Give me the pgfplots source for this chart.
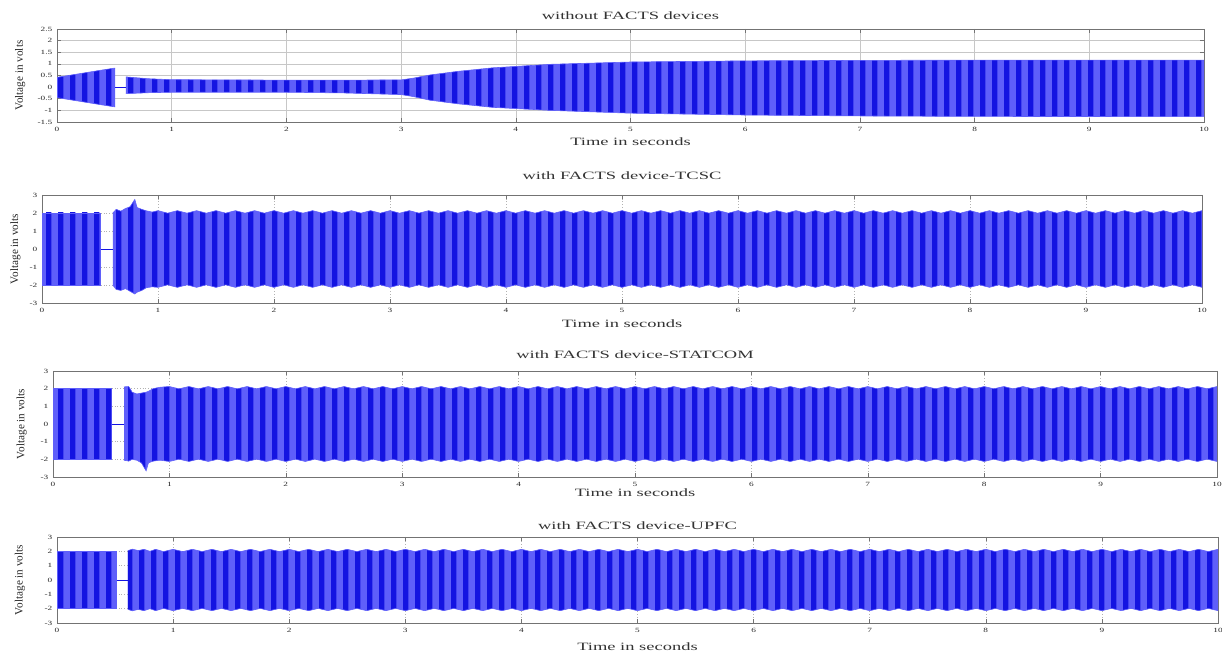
\documentclass[border=0pt]{standalone}
\usepackage{fontspec}
\setmainfont{Liberation Serif}[FakeStretch=1.45]
\newfontfamily\ttlfamily{Liberation Serif}[FakeStretch=1.65]
\newfontfamily\ylfamily{Liberation Serif}
\usepackage{pgfplots}
\pgfplotsset{compat=1.18}
\usepackage{pgfplotstable}
\usepgfplotslibrary{fillbetween}
\usetikzlibrary{patterns.meta}

\definecolor{sigfill}{RGB}{95,95,250}
\definecolor{sigdark}{RGB}{20,20,225}

\tikzdeclarepattern{
  name=vstripes, type=uncolored,
  bounding box={(0pt,0pt) and (5.8pt,400pt)},
  tile size={(5.8pt,400pt)},
  code={\fill (0pt,-1pt) rectangle (2.8pt,401pt);}
}

\newcommand\titlefont{\ttlfamily\fontsize{5.6}{6.5}\selectfont}
\newcommand\tickfont{\fontsize{3.2}{3.8}\selectfont}
\newcommand\ylfont{\ylfamily\fontsize{5.6}{6.5}\selectfont}

% ---------- panel 1 : without FACTS ----------
\pgfplotstableread{
t u l
0.00 0.42 -0.45
0.10 0.50 -0.53
0.20 0.58 -0.61
0.30 0.66 -0.69
0.40 0.74 -0.77
0.506 0.82 -0.85
}\pOneA
\pgfplotstableread{
t u l
0.60 0.44 -0.28
0.80 0.36 -0.24
1.00 0.32 -0.22
2.00 0.30 -0.22
2.50 0.30 -0.25
3.00 0.31 -0.32
3.10 0.38 -0.40
3.25 0.52 -0.56
3.50 0.68 -0.72
3.80 0.83 -0.87
4.30 0.98 -1.00
5.00 1.08 -1.12
6.00 1.13 -1.20
7.00 1.15 -1.24
8.00 1.16 -1.26
10.00 1.16 -1.27
}\pOneB
% ---------- panel 2 : TCSC ----------
\pgfplotstableread{
t u l
0.00 2.00 -2.00
0.506 2.00 -2.00
}\pTwoA
\pgfplotstableread{
t u l
0.61 2.00 -2.00
0.64 2.20 -2.25
0.68 2.10 -2.30
0.72 2.25 -2.20
0.76 2.35 -2.35
0.80 2.75 -2.50
0.82 2.30 -2.40
0.86 2.20 -2.30
0.90 2.12 -2.15
0.95 2.05 -2.10
1.000 2.13 -2.13
1.083 1.99 -1.99
1.167 2.13 -2.13
1.250 1.99 -1.99
1.333 2.13 -2.13
1.417 1.99 -1.99
1.500 2.13 -2.13
1.583 1.99 -1.99
1.667 2.13 -2.13
1.750 1.99 -1.99
1.833 2.13 -2.13
1.917 1.99 -1.99
2.000 2.13 -2.13
2.083 1.99 -1.99
2.167 2.13 -2.13
2.250 1.99 -1.99
2.333 2.13 -2.13
2.417 1.99 -1.99
2.500 2.13 -2.13
2.583 1.99 -1.99
2.667 2.13 -2.13
2.750 1.99 -1.99
2.833 2.13 -2.13
2.917 1.99 -1.99
3.000 2.13 -2.13
3.083 1.99 -1.99
3.167 2.13 -2.13
3.250 1.99 -1.99
3.333 2.13 -2.13
3.417 1.99 -1.99
3.500 2.13 -2.13
3.583 1.99 -1.99
3.667 2.13 -2.13
3.750 1.99 -1.99
3.833 2.13 -2.13
3.917 1.99 -1.99
4.000 2.13 -2.13
4.083 1.99 -1.99
4.167 2.13 -2.13
4.250 1.99 -1.99
4.333 2.13 -2.13
4.417 1.99 -1.99
4.500 2.13 -2.13
4.583 1.99 -1.99
4.667 2.13 -2.13
4.750 1.99 -1.99
4.833 2.13 -2.13
4.917 1.99 -1.99
5.000 2.13 -2.13
5.083 1.99 -1.99
5.167 2.13 -2.13
5.250 1.99 -1.99
5.333 2.13 -2.13
5.417 1.99 -1.99
5.500 2.13 -2.13
5.583 1.99 -1.99
5.667 2.13 -2.13
5.750 1.99 -1.99
5.833 2.13 -2.13
5.917 1.99 -1.99
6.000 2.13 -2.13
6.083 1.99 -1.99
6.167 2.13 -2.13
6.250 1.99 -1.99
6.333 2.13 -2.13
6.417 1.99 -1.99
6.500 2.13 -2.13
6.583 1.99 -1.99
6.667 2.13 -2.13
6.750 1.99 -1.99
6.833 2.13 -2.13
6.917 1.99 -1.99
7.000 2.13 -2.13
7.083 1.99 -1.99
7.167 2.13 -2.13
7.250 1.99 -1.99
7.333 2.13 -2.13
7.417 1.99 -1.99
7.500 2.13 -2.13
7.583 1.99 -1.99
7.667 2.13 -2.13
7.750 1.99 -1.99
7.833 2.13 -2.13
7.917 1.99 -1.99
8.000 2.13 -2.13
8.083 1.99 -1.99
8.167 2.13 -2.13
8.250 1.99 -1.99
8.333 2.13 -2.13
8.417 1.99 -1.99
8.500 2.13 -2.13
8.583 1.99 -1.99
8.667 2.13 -2.13
8.750 1.99 -1.99
8.833 2.13 -2.13
8.917 1.99 -1.99
9.000 2.13 -2.13
9.083 1.99 -1.99
9.167 2.13 -2.13
9.250 1.99 -1.99
9.333 2.13 -2.13
9.417 1.99 -1.99
9.500 2.13 -2.13
9.583 1.99 -1.99
9.667 2.13 -2.13
9.750 1.99 -1.99
9.833 2.13 -2.13
9.917 1.99 -1.99
10.000 2.13 -2.13
}\pTwoB
% ---------- panel 3 : STATCOM ----------
\pgfplotstableread{
t u l
0.00 2.00 -2.00
0.504 2.00 -2.00
}\pThreeA
\pgfplotstableread{
t u l
0.61 2.10 -2.05
0.65 2.12 -2.10
0.68 1.80 -2.00
0.72 1.70 -2.05
0.76 1.75 -2.20
0.80 1.80 -2.65
0.82 1.85 -2.20
0.86 2.00 -2.10
0.92 2.08 -2.05
1.000 2.12 -2.12
1.083 1.99 -1.99
1.167 2.12 -2.12
1.250 1.99 -1.99
1.333 2.12 -2.12
1.417 1.99 -1.99
1.500 2.12 -2.12
1.583 1.99 -1.99
1.667 2.12 -2.12
1.750 1.99 -1.99
1.833 2.12 -2.12
1.917 1.99 -1.99
2.000 2.12 -2.12
2.083 1.99 -1.99
2.167 2.12 -2.12
2.250 1.99 -1.99
2.333 2.12 -2.12
2.417 1.99 -1.99
2.500 2.12 -2.12
2.583 1.99 -1.99
2.667 2.12 -2.12
2.750 1.99 -1.99
2.833 2.12 -2.12
2.917 1.99 -1.99
3.000 2.12 -2.12
3.083 1.99 -1.99
3.167 2.12 -2.12
3.250 1.99 -1.99
3.333 2.12 -2.12
3.417 1.99 -1.99
3.500 2.12 -2.12
3.583 1.99 -1.99
3.667 2.12 -2.12
3.750 1.99 -1.99
3.833 2.12 -2.12
3.917 1.99 -1.99
4.000 2.12 -2.12
4.083 1.99 -1.99
4.167 2.12 -2.12
4.250 1.99 -1.99
4.333 2.12 -2.12
4.417 1.99 -1.99
4.500 2.12 -2.12
4.583 1.99 -1.99
4.667 2.12 -2.12
4.750 1.99 -1.99
4.833 2.12 -2.12
4.917 1.99 -1.99
5.000 2.12 -2.12
5.083 1.99 -1.99
5.167 2.12 -2.12
5.250 1.99 -1.99
5.333 2.12 -2.12
5.417 1.99 -1.99
5.500 2.12 -2.12
5.583 1.99 -1.99
5.667 2.12 -2.12
5.750 1.99 -1.99
5.833 2.12 -2.12
5.917 1.99 -1.99
6.000 2.12 -2.12
6.083 1.99 -1.99
6.167 2.12 -2.12
6.250 1.99 -1.99
6.333 2.12 -2.12
6.417 1.99 -1.99
6.500 2.12 -2.12
6.583 1.99 -1.99
6.667 2.12 -2.12
6.750 1.99 -1.99
6.833 2.12 -2.12
6.917 1.99 -1.99
7.000 2.12 -2.12
7.083 1.99 -1.99
7.167 2.12 -2.12
7.250 1.99 -1.99
7.333 2.12 -2.12
7.417 1.99 -1.99
7.500 2.12 -2.12
7.583 1.99 -1.99
7.667 2.12 -2.12
7.750 1.99 -1.99
7.833 2.12 -2.12
7.917 1.99 -1.99
8.000 2.12 -2.12
8.083 1.99 -1.99
8.167 2.12 -2.12
8.250 1.99 -1.99
8.333 2.12 -2.12
8.417 1.99 -1.99
8.500 2.12 -2.12
8.583 1.99 -1.99
8.667 2.12 -2.12
8.750 1.99 -1.99
8.833 2.12 -2.12
8.917 1.99 -1.99
9.000 2.12 -2.12
9.083 1.99 -1.99
9.167 2.12 -2.12
9.250 1.99 -1.99
9.333 2.12 -2.12
9.417 1.99 -1.99
9.500 2.12 -2.12
9.583 1.99 -1.99
9.667 2.12 -2.12
9.750 1.99 -1.99
9.833 2.12 -2.12
9.917 1.99 -1.99
10.000 2.12 -2.12
}\pThreeB
% ---------- panel 4 : UPFC ----------
\pgfplotstableread{
t u l
0.00 2.00 -2.00
0.515 2.00 -2.00
}\pFourA
\pgfplotstableread{
t u l
0.61 2.05 -2.05
0.65 2.15 -2.15
0.70 2.05 -2.05
0.75 2.14 -2.14
0.80 2.00 -2.00
0.85 2.14 -2.14
0.917 1.98 -1.98
1.000 2.14 -2.14
1.083 1.98 -1.98
1.167 2.14 -2.14
1.250 1.98 -1.98
1.333 2.14 -2.14
1.417 1.98 -1.98
1.500 2.14 -2.14
1.583 1.98 -1.98
1.667 2.14 -2.14
1.750 1.98 -1.98
1.833 2.14 -2.14
1.917 1.98 -1.98
2.000 2.14 -2.14
2.083 1.98 -1.98
2.167 2.14 -2.14
2.250 1.98 -1.98
2.333 2.14 -2.14
2.417 1.98 -1.98
2.500 2.14 -2.14
2.583 1.98 -1.98
2.667 2.14 -2.14
2.750 1.98 -1.98
2.833 2.14 -2.14
2.917 1.98 -1.98
3.000 2.14 -2.14
3.083 1.98 -1.98
3.167 2.14 -2.14
3.250 1.98 -1.98
3.333 2.14 -2.14
3.417 1.98 -1.98
3.500 2.14 -2.14
3.583 1.98 -1.98
3.667 2.14 -2.14
3.750 1.98 -1.98
3.833 2.14 -2.14
3.917 1.98 -1.98
4.000 2.14 -2.14
4.083 1.98 -1.98
4.167 2.14 -2.14
4.250 1.98 -1.98
4.333 2.14 -2.14
4.417 1.98 -1.98
4.500 2.14 -2.14
4.583 1.98 -1.98
4.667 2.14 -2.14
4.750 1.98 -1.98
4.833 2.14 -2.14
4.917 1.98 -1.98
5.000 2.14 -2.14
5.083 1.98 -1.98
5.167 2.14 -2.14
5.250 1.98 -1.98
5.333 2.14 -2.14
5.417 1.98 -1.98
5.500 2.14 -2.14
5.583 1.98 -1.98
5.667 2.14 -2.14
5.750 1.98 -1.98
5.833 2.14 -2.14
5.917 1.98 -1.98
6.000 2.14 -2.14
6.083 1.98 -1.98
6.167 2.14 -2.14
6.250 1.98 -1.98
6.333 2.14 -2.14
6.417 1.98 -1.98
6.500 2.14 -2.14
6.583 1.98 -1.98
6.667 2.14 -2.14
6.750 1.98 -1.98
6.833 2.14 -2.14
6.917 1.98 -1.98
7.000 2.14 -2.14
7.083 1.98 -1.98
7.167 2.14 -2.14
7.250 1.98 -1.98
7.333 2.14 -2.14
7.417 1.98 -1.98
7.500 2.14 -2.14
7.583 1.98 -1.98
7.667 2.14 -2.14
7.750 1.98 -1.98
7.833 2.14 -2.14
7.917 1.98 -1.98
8.000 2.14 -2.14
8.083 1.98 -1.98
8.167 2.14 -2.14
8.250 1.98 -1.98
8.333 2.14 -2.14
8.417 1.98 -1.98
8.500 2.14 -2.14
8.583 1.98 -1.98
8.667 2.14 -2.14
8.750 1.98 -1.98
8.833 2.14 -2.14
8.917 1.98 -1.98
9.000 2.14 -2.14
9.083 1.98 -1.98
9.167 2.14 -2.14
9.250 1.98 -1.98
9.333 2.14 -2.14
9.417 1.98 -1.98
9.500 2.14 -2.14
9.583 1.98 -1.98
9.667 2.14 -2.14
9.750 1.98 -1.98
9.833 2.14 -2.14
9.917 1.98 -1.98
10.000 2.14 -2.14
}\pFourB

\newcommand\env[2]{%
  \addplot[draw=sigfill, line width=0.3pt, name path=#2u] table[x=t,y=u]{#1};
  \addplot[draw=sigfill, line width=0.3pt, name path=#2l] table[x=t,y=l]{#1};
  \addplot[fill=sigfill, draw=none] fill between[of=#2u and #2l];
  \addplot[pattern=vstripes, pattern color=sigdark, draw=none] fill between[of=#2u and #2l];
}

\pgfplotsset{
  every axis title shift=0pt,
  panel/.style={
    scale only axis,
    xmin=0, xmax=10, xtick={0,1,...,10},
    tick align=inside,
    axis line style={black!55, line width=0.4pt},
    tick style={black!55, line width=0.3pt},
    major tick length=2pt,
    grid=major,
    grid style={black!30, densely dotted, line width=0.3pt},
    ticklabel style={font=\tickfont, text=black!85},
    /pgf/number format/assume math mode=true,
    /pgf/number format/fixed,
    xticklabel style={yshift=1pt},
    yticklabel style={xshift=1.2pt},
    title style={font=\titlefont, text=black!80, at={(0.5,1)}, anchor=base},
    xlabel style={font=\titlefont, text=black!80, at={(0.5,0)}, anchor=base},
    ylabel style={font=\ylfont, text=black!85, anchor=center},
    xlabel={Time in seconds}, ylabel={Voltage in volts},
    anchor=south west,
  }
}

\begin{document}
\begin{tikzpicture}
% ---- panel 1 ----
\begin{axis}[panel, at={(28.5pt,-61pt)}, width=573.5pt, height=46.5pt,
  ymin=-1.5, ymax=2.5, ytick={-1.5,-1,-0.5,0,0.5,1,1.5,2,2.5},
  grid style={black!22, solid, line width=0.3pt},
  title={without FACTS devices}, title style={yshift=4.8pt},
  xlabel style={yshift=-11.7pt},
  ylabel style={at={(-0.032,0.5)}}]
  \env{\pOneA}{a}
  \env{\pOneB}{b}
  \addplot[sigdark, line width=0.4pt] coordinates {(0.506,0) (0.60,0)};
  \node[anchor=south west, font=\tickfont, inner sep=0.4pt] at (rel axis cs:0,1) {×10\textsuperscript{4}};
\end{axis}

% ---- panel 2 ----
\begin{axis}[panel, at={(21pt,-151.5pt)}, width=580pt, height=54pt,
  ymin=-3, ymax=3, ytick={-3,-2,...,3},
  title={with FACTS device-TCSC}, title style={yshift=7.8pt},
  xlabel style={yshift=-12.2pt},
  ylabel style={at={(-0.023,0.5)}}]
  \env{\pTwoA}{a}
  \env{\pTwoB}{b}
  \addplot[sigdark, line width=0.4pt] coordinates {(0.506,0) (0.61,0)};
  \node[anchor=south west, font=\tickfont, inner sep=0.4pt] at (rel axis cs:0,1) {×10\textsuperscript{4}};
\end{axis}

% ---- panel 3 ----
\begin{axis}[panel, at={(26.5pt,-238.5pt)}, width=582pt, height=53pt,
  ymin=-3, ymax=3, ytick={-3,-2,...,3},
  title={with FACTS device-STATCOM}, title style={yshift=6.3pt},
  xlabel style={yshift=-9.7pt},
  ylabel style={at={(-0.027,0.5)}}]
  \env{\pThreeA}{a}
  \env{\pThreeB}{b}
  \addplot[sigdark, line width=0.4pt] coordinates {(0.504,0) (0.61,0)};
  \node[anchor=south west, font=\tickfont, inner sep=0.4pt] at (rel axis cs:0,1) {×10\textsuperscript{4}};
\end{axis}

% ---- panel 4 ----
\begin{axis}[panel, at={(28.5pt,-311.5pt)}, width=580.5pt, height=43pt,
  ymin=-3, ymax=3, ytick={-3,-2,...,3},
  title={with FACTS device-UPFC}, title style={yshift=3.8pt},
  xlabel style={yshift=-13.7pt},
  ylabel style={at={(-0.032,0.5)}}]
  \env{\pFourA}{a}
  \env{\pFourB}{b}
  \addplot[sigdark, line width=0.4pt] coordinates {(0.515,0) (0.61,0)};
  \node[anchor=south west, font=\tickfont, inner sep=0.4pt] at (rel axis cs:0,1) {×10\textsuperscript{4}};
\end{axis}
\pgfresetboundingbox
\path (0pt,0pt) rectangle (611pt,-328pt);
\end{tikzpicture}
\end{document}
